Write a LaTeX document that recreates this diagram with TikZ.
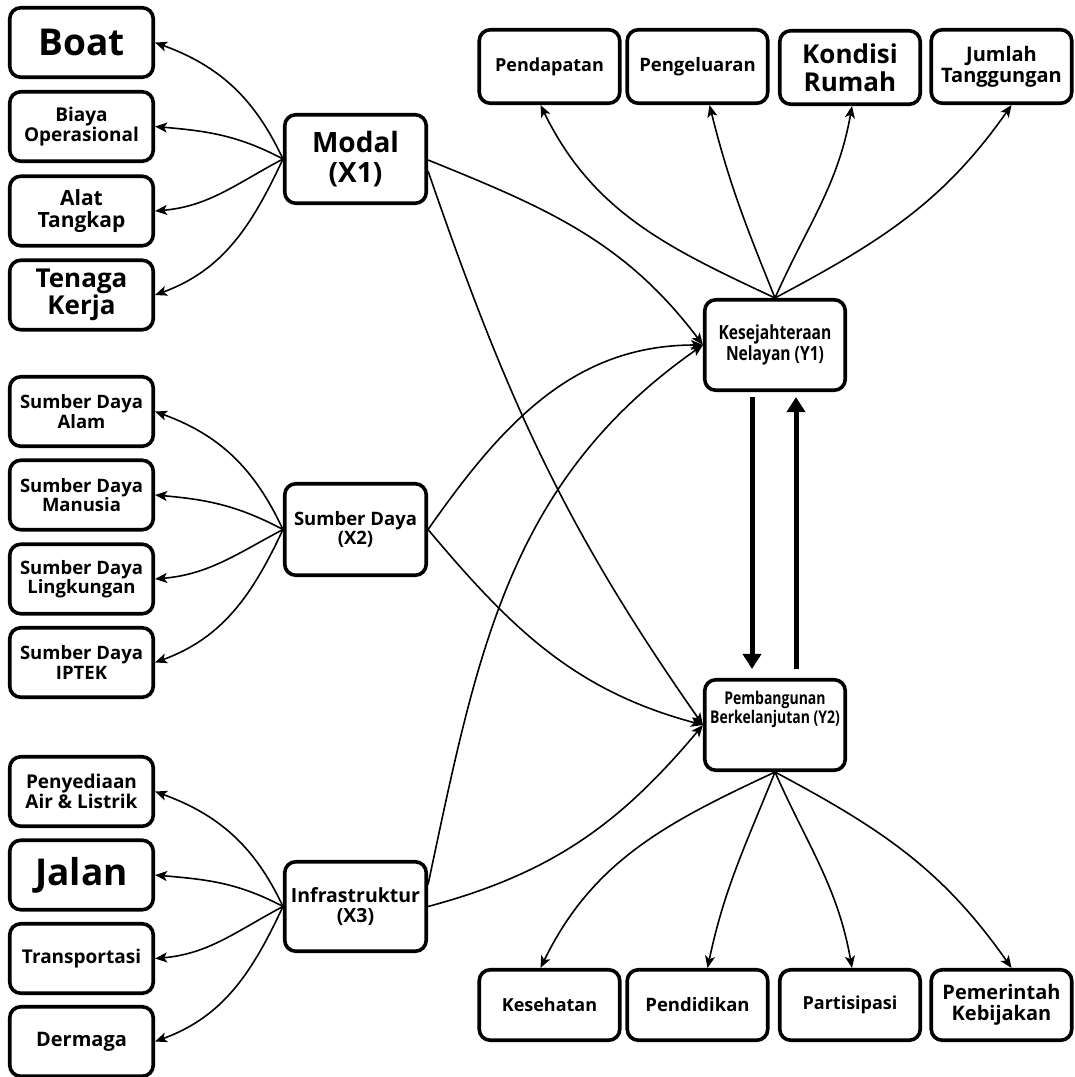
\documentclass[tikz,border=0pt]{standalone}
\usepackage{fontspec}
\setmainfont{Open Sans}
\newfontfamily\condensed[FakeStretch=0.8]{Open Sans}
\usetikzlibrary{arrows.meta}

\newcommand{\fs}[1]{\fontsize{#1}{1.06\dimexpr#1pt\relax}\selectfont\bfseries}

\tikzset{
  box/.style={draw, line width=3.6pt, rounded corners=11pt, fill=white,
              minimum width=143.5pt, minimum height=69.5pt, inner sep=1pt, align=center},
  topbox/.style={box, minimum width=140.5pt, minimum height=73.5pt},
  botbox/.style={box, minimum width=140.5pt, minimum height=70.5pt},
  latent/.style={box, minimum width=141.5pt, minimum height=89.5pt},
  target/.style={box, minimum width=140.5pt, minimum height=90.5pt},
  arr/.style={line width=1.6pt, -{Stealth[length=12pt,width=10pt,inset=3pt]}},
  bigarr/.style={line width=5pt, -{Triangle[length=15pt,width=18pt]}}
}

\begin{document}
\begin{tikzpicture}[x=1pt,y=1pt]
\useasboundingbox (0,0) rectangle (1075,-1077);

% indicator boxes, left column
\node[box, font=\fs{37}] (boat)   at (81.5,-42.5) {Boat};
\node[box, font=\fs{19}] (biaya)  at (81.5,-126.5) {Biaya\\Operasional};
\node[box, font=\fs{21}] (alat)   at (81.5,-211) {Alat\\Tangkap};
\node[box, font=\fs{26}] (tenaga) at (81.5,-295) {Tenaga\\Kerja};

\node[box, font=\fs{18.5}] (sdalam)  at (81.5,-411.5) {Sumber Daya\\Alam};
\node[box, font=\fs{18.5}] (sdman)   at (81.5,-495) {Sumber Daya\\Manusia};
\node[box, font=\fs{18.5}] (sdling)  at (81.5,-579) {Sumber Daya\\Lingkungan};
\node[box, font=\fs{18.5}] (sdiptek) at (81.5,-662.5) {Sumber Daya\\IPTEK};

\node[box, font=\fs{19}] (air)    at (81.5,-791.5) {Penyediaan\\Air \& Listrik};
\node[box, font=\fs{37}] (jalan)  at (81.5,-875) {Jalan};
\node[box, font=\fs{19}] (trans)  at (81.5,-958.5) {Transportasi};
\node[box, font=\fs{20}] (dermaga) at (81.5,-1041.5) {Dermaga};

% exogenous constructs
\node[latent, font=\fs{28}, minimum height=88.5pt] (modal) at (355.5,-159) {Modal\\(X1)};
\node[latent, font=\fs{18.5}, minimum height=91.5pt] (sd)  at (355.5,-529.5) {Sumber Daya\\(X2)};
\node[latent, font=\fs{19.5}] (infra) at (355.5,-906.5) {Infrastruktur\\(X3)};

% endogenous constructs
\node[target, font=\condensed\fontsize{19.5}{21}\selectfont\bfseries] (y1) at (775,-345) {Kesejahteraan\\Nelayan (Y1)};
\node[target] (y2) at (775,-725) {};
\node[font=\condensed\fontsize{17.5}{19}\selectfont\bfseries, align=center] (y2text) at ([yshift=16pt]y2.center) {Pembangunan\\Berkelanjutan (Y2)};

% indicators of Y1
\node[topbox, font=\fs{18}]   (pend)   at (549.5,-66.5) {Pendapatan};
\node[topbox, font=\fs{18.5}] (peng)   at (697.5,-66.5) {Pengeluaran};
\node[topbox, font=\fs{26}]   (kond)   at (850,-67.5) {Kondisi\\Rumah};
\node[topbox, font=\fs{20}]   (jumlah) at (1001.5,-66.5) {Jumlah\\Tanggungan};

% indicators of Y2
\node[botbox, font=\fs{18}]   (kes)   at (549.5,-1005) {Kesehatan};
\node[botbox, font=\fs{18.5}] (pdd)   at (697.5,-1005) {Pendidikan};
\node[botbox, font=\fs{18}]   (part)  at (850,-1005) {Partisipasi};
\node[botbox, font=\fs{20}]   (pem)   at (1001.5,-1005) {Pemerintah\\Kebijakan};

% fans towards the left indicators
\foreach \src/\a/\b/\c/\d in {modal/boat/biaya/alat/tenaga, sd/sdalam/sdman/sdling/sdiptek, infra/air/jalan/trans/dermaga}{
  \draw[arr] (\src.west) to[out=115, in=-20] (\a.east);
  \draw[arr] (\src.west) to[out=152, in=-5]  (\b.east);
  \draw[arr] (\src.west) to[out=-152, in=5]  (\c.east);
  \draw[arr] (\src.west) to[out=-115, in=20] (\d.east);
}

% structural paths
\draw[arr] ([yshift=-1pt]modal.east)  to[out=-22, in=127] (y1.west);
\draw[arr] ([yshift=-12pt]modal.east) to[out=-71, in=125] (y2.west);
\draw[arr] (sd.east) to[out=55, in=180] (y1.west);
\draw[arr] (sd.east) to[out=-50, in=165] (y2.west);
\draw[arr] ([yshift=22pt]infra.east) to[out=78, in=-145] (y1.west);
\draw[arr] (infra.east) to[out=15, in=-130] (y2.west);

% Y1 indicators
\draw[arr] (y1.north) to[out=155, in=-64]  ([xshift=-9pt]pend.south);
\draw[arr] (y1.north) to[out=112, in=-76]  ([xshift=12pt]peng.south);
\draw[arr] (y1.north) to[out=66,  in=-100] ([xshift=2pt]kond.south);
\draw[arr] (y1.north) to[out=28,  in=-125] ([xshift=10pt]jumlah.south);

% Y2 indicators
\draw[arr] (y2.south) to[out=-155, in=64]  ([xshift=-9pt]kes.north);
\draw[arr] (y2.south) to[out=-112, in=78]  ([xshift=10pt]pdd.north);
\draw[arr] (y2.south) to[out=-66,  in=100] ([xshift=2pt]part.north);
\draw[arr] (y2.south) to[out=-28,  in=125] ([xshift=10pt]pem.north);

% reciprocal relation between Y1 and Y2
\draw[bigarr] ([xshift=-23pt,yshift=-5pt]y1.south) -- ([xshift=-23pt,yshift=9pt]y2.north);
\draw[bigarr] ([xshift=21pt,yshift=9pt]y2.north) -- ([xshift=21pt,yshift=-5pt]y1.south);
\end{tikzpicture}
\end{document}
